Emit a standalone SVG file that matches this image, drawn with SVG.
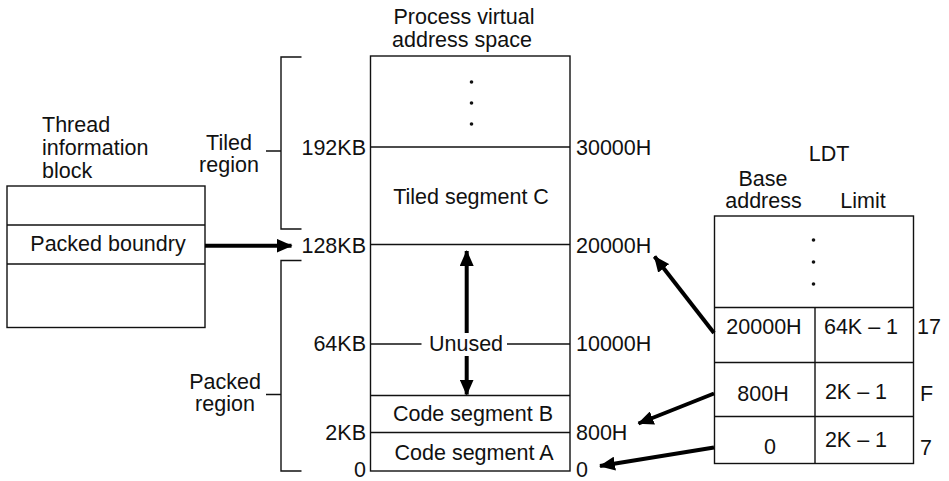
<svg xmlns="http://www.w3.org/2000/svg" width="949" height="481" viewBox="0 0 949 481">
<style>
text{font-family:"Liberation Sans",Arial,sans-serif;font-size:21.5px;fill:#111}
.m{text-anchor:middle}
.e{text-anchor:end}
.box{fill:none;stroke:#111;stroke-width:1.4}
.ln{stroke:#111;stroke-width:1.4;fill:none}
.ar{stroke:#000;stroke-width:4;fill:none;marker-end:url(#ah)}
</style>
<defs>
<marker id="ah" viewBox="0 0 16 14" refX="15" refY="7" markerWidth="16" markerHeight="14" markerUnits="userSpaceOnUse" orient="auto">
<path d="M0,0 L16,7 L0,14 z" fill="#000"/>
</marker>
</defs>
<rect width="949" height="481" fill="#fff"/>

<g id="tib">
<text x="42" y="132">Thread</text>
<text x="42" y="155">information</text>
<text x="42" y="178">block</text>
<rect class="box" x="7" y="186" width="198" height="141.5"/>
<line class="ln" x1="7" y1="225" x2="205" y2="225"/>
<line class="ln" x1="7" y1="264" x2="205" y2="264"/>
<text class="m" x="108" y="251">Packed boundry</text>
</g>

<g id="tiled-region">
<text class="m" x="229" y="150">Tiled</text>
<text class="m" x="229" y="172">region</text>
<path class="ln" d="M301.5,57 H281 V229 H301.5 M266,151 H281"/>
</g>

<g id="packed-region">
<text class="m" x="225" y="389">Packed</text>
<text class="m" x="225" y="411">region</text>
<path class="ln" d="M301.5,260.5 H281 V471 H301.5 M266,394.5 H281"/>
</g>

<g id="vas">
<text class="m" x="464" y="24">Process virtual</text>
<text class="m" x="462" y="46.5">address space</text>
<rect class="box" x="370.5" y="56" width="199.5" height="415"/>
<circle cx="471.5" cy="82" r="1.8" fill="#111"/>
<circle cx="471.5" cy="103" r="1.8" fill="#111"/>
<circle cx="471.5" cy="124" r="1.8" fill="#111"/>
<line class="ln" x1="370.5" y1="147" x2="570" y2="147"/>
<text class="m" x="471" y="204">Tiled segment C</text>
<line class="ln" x1="370.5" y1="244.5" x2="570" y2="244.5"/>
<line class="ln" x1="370.5" y1="344" x2="421.5" y2="344"/>
<line class="ln" x1="507" y1="344" x2="570" y2="344"/>
<text class="m" x="466" y="351">Unused</text>
<line class="ln" x1="370.5" y1="395.5" x2="570" y2="395.5"/>
<text class="m" x="473" y="421">Code segment B</text>
<line class="ln" x1="370.5" y1="432.5" x2="570" y2="432.5"/>
<text class="m" x="474" y="460">Code segment A</text>
<text class="e" x="366" y="155">192KB</text>
<text class="e" x="366" y="252.5">128KB</text>
<text class="e" x="366" y="351">64KB</text>
<text class="e" x="366" y="440">2KB</text>
<text class="e" x="366" y="477">0</text>
<text x="576" y="155">30000H</text>
<text x="576" y="252.5">20000H</text>
<text x="576" y="351">10000H</text>
<text x="576" y="440">800H</text>
<text x="576" y="477">0</text>
</g>

<g id="ldt">
<text class="m" x="829" y="160.5">LDT</text>
<text class="m" x="763" y="186">Base</text>
<text class="m" x="763.5" y="208">address</text>
<text class="m" x="863" y="208">Limit</text>
<rect class="box" x="714.5" y="216" width="199" height="247.5"/>
<circle cx="813.5" cy="240" r="1.8" fill="#111"/>
<circle cx="813.5" cy="262" r="1.8" fill="#111"/>
<circle cx="813.5" cy="284" r="1.8" fill="#111"/>
<line class="ln" x1="714.5" y1="307.5" x2="913.5" y2="307.5"/>
<line class="ln" x1="714.5" y1="362.5" x2="913.5" y2="362.5"/>
<line class="ln" x1="714.5" y1="416.5" x2="913.5" y2="416.5"/>
<line class="ln" x1="815" y1="307.5" x2="815" y2="463.5"/>
<text class="m" x="764" y="334">20000H</text>
<text class="m" x="861" y="334">64K – 1</text>
<text x="917" y="334">17</text>
<text class="m" x="763" y="400.5">800H</text>
<text class="m" x="856" y="398.5">2K – 1</text>
<text x="920" y="400.5">F</text>
<text class="m" x="770" y="453.5">0</text>
<text class="m" x="856" y="447">2K – 1</text>
<text x="920" y="455">7</text>
</g>

<g id="connectors">
<line class="ar" x1="205" y1="245.7" x2="291.5" y2="245.7"/>
<line class="ar" x1="466.7" y1="333" x2="466.7" y2="251"/>
<line class="ar" x1="466.7" y1="356" x2="466.7" y2="394.5"/>
<line class="ar" x1="714" y1="333" x2="654.5" y2="256.5"/>
<line class="ar" x1="714" y1="393.5" x2="638.5" y2="423.5"/>
<line class="ar" x1="714" y1="447.5" x2="600" y2="466"/>
</g>
</svg>
